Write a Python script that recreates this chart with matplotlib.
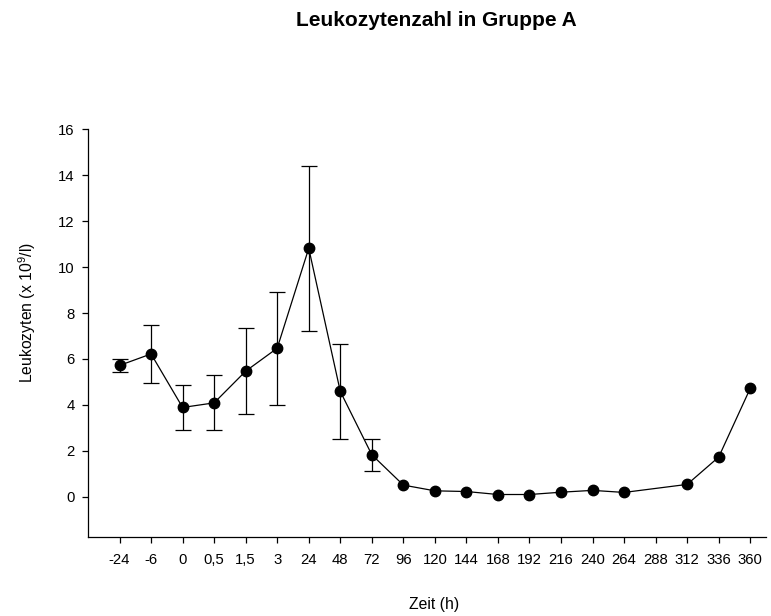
import numpy as np
import matplotlib
matplotlib.use("Agg")
import matplotlib.pyplot as plt

plt.rcParams['font.family'] = ['Liberation Sans', 'DejaVu Sans']
plt.rcParams['mathtext.fontset'] = 'custom'
plt.rcParams['mathtext.rm'] = 'Liberation Sans'
plt.rcParams['mathtext.it'] = 'Liberation Sans'

labels = ['-24', '-6', '0', '0,5', '1,5', '3', '24', '48', '72', '96', '120', '144',
          '168', '192', '216', '240', '264', '288', '312', '336', '360']
means = [5.72, 6.22, 3.89, 4.09, 5.47, 6.47, 10.82, 4.59, 1.83, 0.51, 0.26, 0.23,
         0.10, 0.10, 0.20, 0.28, 0.19, np.nan, 0.54, 1.73, 4.72]
upper = [6.01, 7.48, 4.85, 5.30, 7.33, 8.91, 14.40, 6.64, 2.53]
lower = [5.42, 4.97, 2.93, 2.89, 3.60, 4.01, 7.22, 2.51, 1.12]

W, H = 771, 616
fig = plt.figure(figsize=(W/100, H/100), dpi=100)
ax = fig.add_axes([88/W, 1-537/H, (766-88)/W, (537-129.3)/H])

x = np.arange(len(labels))
m = np.array(means)
valid = ~np.isnan(m)
ax.plot(x[valid], m[valid], color='black', lw=0.9, marker='o', ms=7.5,
        mfc='black', mec='black', zorder=3)

ne = len(upper)
yerr = np.array([np.array(means[:ne]) - np.array(lower),
                 np.array(upper) - np.array(means[:ne])])
ax.errorbar(x[:ne], means[:ne], yerr=yerr, fmt='none', ecolor='black',
            elinewidth=0.9, capsize=5.5, capthick=0.9, zorder=2)

ax.set_xlim(-1.0, 20.5)
ax.set_ylim(-1.75, 16)
ax.set_xticks(x)
ax.set_xticklabels(labels)
ax.set_yticks(np.arange(0, 17, 2))
for s in ['top', 'right']:
    ax.spines[s].set_visible(False)
for s in ['left', 'bottom']:
    ax.spines[s].set_linewidth(0.9)
ax.tick_params(direction='out', length=4.5, width=0.9, labelsize=10.7)
ax.tick_params(axis='x', pad=7)
ax.tick_params(axis='y', pad=5)

fig.text(434/W, 1-604/H, 'Zeit (h)', ha='center', va='center', fontsize=11.3)
fig.text(27.5/W, 1-313/H, 'Leukozyten (x 10$^{9}$/l)', ha='center', va='center',
         rotation=90, fontsize=11.3)
fig.text(436/W, 1-21/H, 'Leukozytenzahl in Gruppe A', ha='center', va='center',
         fontsize=15, fontweight='bold')

fig.savefig('out.png', dpi=100)
